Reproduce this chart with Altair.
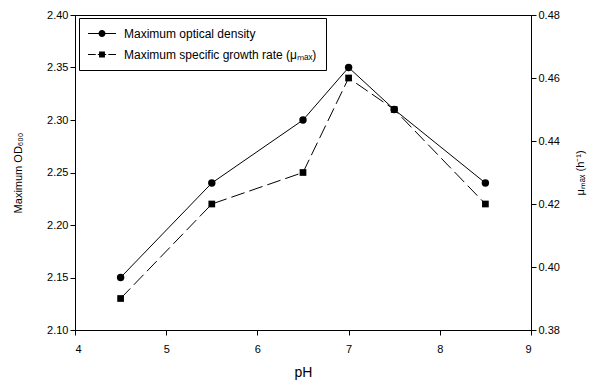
import altair as alt
import pandas as pd

# ---- data ----
ph = [4.5, 5.5, 6.5, 7.0, 7.5, 8.5]
od = [2.15, 2.24, 2.30, 2.35, 2.31, 2.24]
mu = [0.39, 0.42, 0.43, 0.46, 0.45, 0.42]
series = ["Maximum optical density", "Maximum specific growth rate (μₘₐₓ)"]
x_ticks = [4, 5, 6, 7, 8, 9]
od_ticks = [2.10, 2.15, 2.20, 2.25, 2.30, 2.35, 2.40]
mu_ticks = [0.38, 0.40, 0.42, 0.44, 0.46, 0.48]

df = pd.DataFrame({"pH": ph, "OD": od, "mu": mu})
leg_df = pd.DataFrame({"s": series})

FONT = "Liberation Sans"

x_enc = alt.X(
    "pH:Q",
    scale=alt.Scale(domain=[4, 9], nice=False, zero=False),
    axis=alt.Axis(values=x_ticks, title="pH", format="d", labelPadding=8,
                  titlePadding=11, titleFontSize=14),
)

y_od = alt.Y(
    "OD:Q",
    scale=alt.Scale(domain=[2.10, 2.40], nice=False, zero=False),
    axis=alt.Axis(values=od_ticks, format=".2f", title="Maximum OD₆₀₀",
                  orient="left", titlePadding=23),
)
y_mu = alt.Y(
    "mu:Q",
    scale=alt.Scale(domain=[0.38, 0.48], nice=False, zero=False),
    axis=alt.Axis(values=mu_ticks, format=".2f", title="μₘₐₓ (h⁻¹)",
                  orient="right", titleAngle=270, titlePadding=26),
)

base = alt.Chart(df)

od_line = base.mark_line(color="black", strokeWidth=1).encode(x=x_enc, y=y_od)
od_pts = base.mark_point(shape="circle", filled=True, color="black", size=55, opacity=1).encode(x=x_enc, y=y_od)
od_layer = alt.layer(od_line, od_pts)

mu_line = base.mark_line(color="black", strokeWidth=1, strokeDash=[14, 5]).encode(x=x_enc, y=y_mu)
mu_pts = base.mark_point(shape="square", filled=True, color="black", size=45, opacity=1).encode(x=x_enc, y=y_mu)
mu_layer = alt.layer(mu_line, mu_pts)

# legend glyphs: thin filled bars for the line part + marker
t = 0.04
circle_path = (f"M-1,-{t}H1V{t}H-1Z"
               "M0.25,0A0.25,0.25,0,1,1,-0.25,0A0.25,0.25,0,1,1,0.25,0Z")
square_path = (f"M-1,-{t}H-0.45V{t}H-1Z"
               f"M-0.3,-{t}H0.3V{t}H-0.3Z"
               f"M0.45,-{t}H1V{t}H0.45Z"
               "M-0.21,-0.21H0.21V0.21H-0.21Z")

legend_layer = alt.Chart(leg_df).mark_point(
    filled=True, fill="black", opacity=1
).encode(
    shape=alt.Shape(
        "s:N",
        scale=alt.Scale(domain=series, range=[circle_path, square_path]),
        legend=alt.Legend(
            title=None, orient="none", legendX=4, legendY=3,
            strokeColor="black", padding=9, rowPadding=8,
            symbolSize=784, clipHeight=13, labelFontSize=12, labelFont=FONT,
            labelColor="black", labelOffset=8, labelLimit=400,
            symbolFillColor="black", symbolStrokeColor="black",
            symbolStrokeWidth=0, symbolOpacity=1, fillColor="white",
        ),
    )
).transform_filter("datum.s == 'none'")

chart = alt.layer(od_layer, mu_layer, legend_layer).resolve_scale(
    y="independent"
).properties(
    width=456, height=315,
    autosize=alt.AutoSizeParams(type="none"),
    padding={"left": 75, "top": 15, "right": 68, "bottom": 55},
    background="white",
).configure_view(
    stroke="black", strokeWidth=1
).configure_axis(
    grid=False, domainColor="black", tickColor="black", tickSize=5,
    labelColor="black", titleColor="black", labelFont=FONT, titleFont=FONT,
    labelFontSize=11, titleFontSize=11, titleFontWeight="normal",
)

chart.save("out.html", embed_options={"renderer": "svg", "actions": False})
